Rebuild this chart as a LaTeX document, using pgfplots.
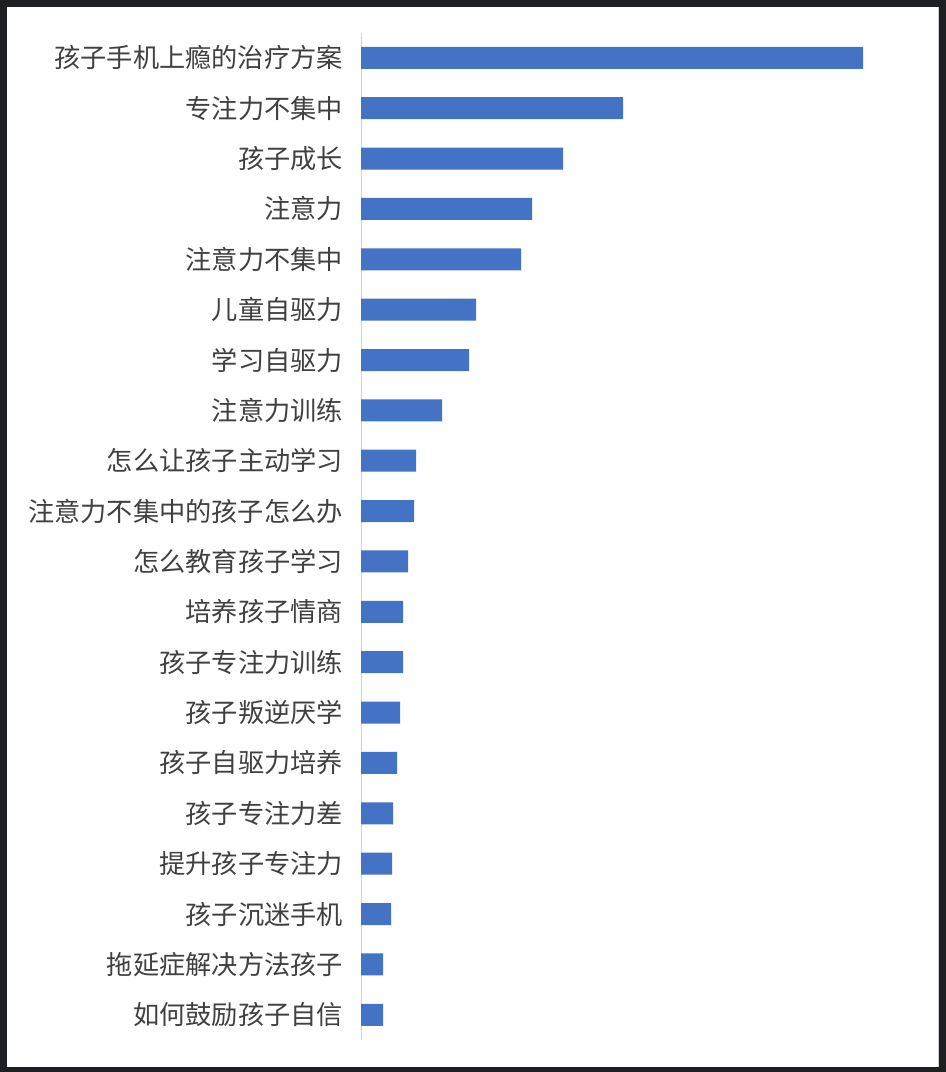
\documentclass[border=0pt]{standalone}
\usepackage{fontspec}
\usepackage{pgfplots}
\pgfplotsset{compat=1.18}
\newfontfamily\cjk{Noto Sans CJK SC}
\definecolor{barblue}{HTML}{4472C4}
\definecolor{labelgray}{HTML}{404040}
\definecolor{axisgray}{HTML}{D0D0D0}
\definecolor{frame}{HTML}{1E1F22}
\begin{document}
\begin{tikzpicture}[x=1bp,y=1bp]
\fill[frame] (0,0) rectangle (946,1072);
\fill[white] (7,5) rectangle (939,1065);
\draw[gray!40,line width=0.8bp] (938,5) -- (938,1065);
\begin{axis}[
  at={(361bp,32bp)}, anchor=south west,
  scale only axis,
  width=560bp, height=1007.4bp,
  xmin=0, xmax=560,
  ymin=-0.5, ymax=19.5,
  y dir=reverse,
  xbar, bar width=22bp,
  hide x axis,
  axis y line*=left,
  y axis line style={draw=axisgray, line width=1bp, -},
  ytick=data,
  yticklabels={孩子手机上瘾的治疗方案,专注力不集中,孩子成长,注意力,注意力不集中,儿童自驱力,学习自驱力,注意力训练,怎么让孩子主动学习,注意力不集中的孩子怎么办,怎么教育孩子学习,培养孩子情商,孩子专注力训练,孩子叛逆厌学,孩子自驱力培养,孩子专注力差,提升孩子专注力,孩子沉迷手机,拖延症解决方法孩子,如何鼓励孩子自信},
  major tick length=0pt,
  ytick style={draw=none},
  yticklabel style={font=\cjk\fontsize{26.2bp}{30bp}\selectfont, text=labelgray, inner sep=0pt, xshift=-18bp, anchor=east},
]
\addplot[draw=none, fill=barblue] coordinates {
(502,0) (262,1) (202,2) (171,3) (160,4) (115,5) (108,6) (81,7) (55,8) (53,9)
(47,10) (42,11) (42,12) (39,13) (36,14) (32,15) (31,16) (30,17) (22,18) (22,19)
};
\end{axis}
\end{tikzpicture}
\end{document}
